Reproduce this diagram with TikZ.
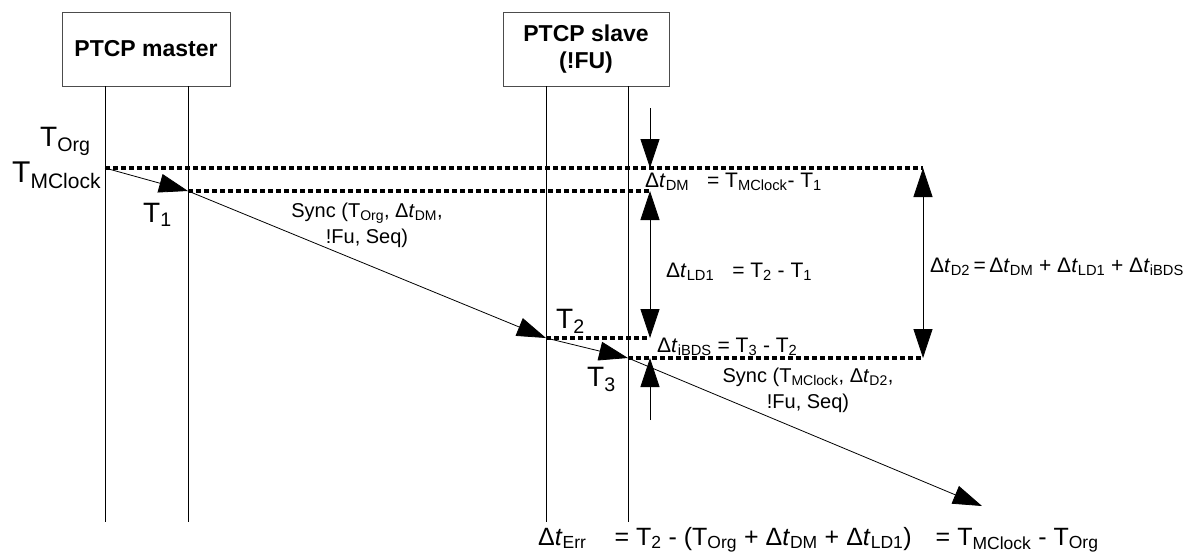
\documentclass[tikz,border=0pt]{standalone}
\usepackage{fontspec}
\setmainfont{Liberation Sans}
\usetikzlibrary{arrows.meta}
\newcommand{\dt}[1]{Δ\textit{t}\textsubscript{#1}}
\newcommand{\sub}[1]{\textsubscript{#1}}

\begin{document}
\begin{tikzpicture}[x=1pt, y=-1pt, >={Triangle[length=29pt,width=19pt]},
    every node/.style={inner sep=0pt},
    box/.style={draw=black!70, line width=0.8pt, minimum width=168pt, minimum height=74pt,
      font=\fontsize{23}{27}\selectfont\bfseries, align=center},
    life/.style={line width=0.8pt},
    msg/.style={->, line width=0.8pt},
    dots/.style={line width=3.2pt, dash pattern=on 4.5pt off 3.5pt},
    dim/.style={line width=0.8pt},
    big/.style={font=\fontsize{28}{30}\selectfont, anchor=base west},
    lbl/.style={font=\fontsize{21}{24}\selectfont, anchor=base west},
    sync/.style={font=\fontsize{20}{26}\selectfont, align=center, anchor=base}]
\useasboundingbox (0,0) rectangle (1194,552);

% --- PTCP master / slave ---
\node[box] (master) at (146,49) {PTCP master};
\node[box, minimum width=166pt] (slave) at (586,49) {PTCP slave\\(!FU)};

% --- lifelines ---
\coordinate (m1 top) at (105,86);  \coordinate (m1 bot) at (105,522);
\coordinate (m2 top) at (188,86);  \coordinate (m2 bot) at (188,522);
\coordinate (s1 top) at (546,86);  \coordinate (s1 bot) at (546,522);
\coordinate (s2 top) at (628,86);  \coordinate (s2 bot) at (628,522);
\foreach \l in {m1,m2,s1,s2}
  \draw[life] (\l\space top) -- (\l\space bot);

% --- time stamps ---
\coordinate (tmc) at (105,168);
\coordinate (t1) at (188,191);
\coordinate (t2) at (546,338);
\coordinate (t3) at (628,358);
\coordinate (tend) at (982,506);

% --- sync frames ---
\draw[msg] (tmc) -- (t1);
\draw[msg] (t1) -- (t2);
\draw[msg] (t2) -- (t3);
\draw[msg] (t3) -- (tend);

% --- dotted reference lines ---
\coordinate (dm top) at (650,108);
\coordinate (dm a) at (650,168);
\coordinate (dm b) at (650,191);
\coordinate (ld b) at (650,338);
\coordinate (bds a) at (650,358);
\coordinate (bds bot) at (650,420);
\coordinate (d2 a) at (923,168);
\coordinate (d2 b) at (923,358);
\draw[dots] (tmc) -- (d2 a);
\draw[dots] (t1) -- (dm b);
\draw[dots] (t2) -- (ld b);
\draw[dots] (t3) -- (d2 b);

% --- intervals ---
\draw[dim, ->] (dm top) -- (dm a);
\draw[dim, <->] (dm b) -- (ld b);
\draw[dim, ->] (bds bot) -- (bds a);
\draw[dim, <->] (d2 a) -- (d2 b);

% --- labels ---
\node[big] (l org) at (40,146) {T\sub{Org}};
\node[big, font=\fontsize{30}{32}\selectfont] (l mc) at (12,182) {T\sub{MClock}};
\node[big] (l t1) at (143,222) {T\sub{1}};
\node[big] (l t2) at (556,328) {T\sub{2}};
\node[big] (l t3) at (587,386) {T\sub{3}};

\node[sync] (sync1) at (367,243) {Sync (T\sub{Org}, \dt{DM},\\!Fu, Seq)};
\node[sync] (sync2) at (808,408) {Sync (T\sub{MClock}, \dt{D2},\\!Fu, Seq)};

\node[lbl] (e dm) at (645,187) {\dt{DM}\hspace{18pt}= T\sub{MClock}- T\sub{1}};
\node[lbl] (e ld) at (666,277) {\dt{LD1}\hspace{18pt}= T\sub{2} - T\sub{1}};
\node[lbl] (e bds) at (657,352) {\dt{iBDS} = T\sub{3} - T\sub{2}};
\node[lbl] (e d2) at (930,272) {\dt{D2}\,=\,\dt{DM} + \dt{LD1} + \dt{iBDS}};
\node[lbl, font=\fontsize{25}{28}\selectfont] (e err) at (538,545)
  {\dt{Err}\hspace{28pt}= T\sub{2} - (T\sub{Org} + \dt{DM} + \dt{LD1})\hspace{24pt}= T\sub{MClock} - T\sub{Org}};
\end{tikzpicture}
\end{document}
